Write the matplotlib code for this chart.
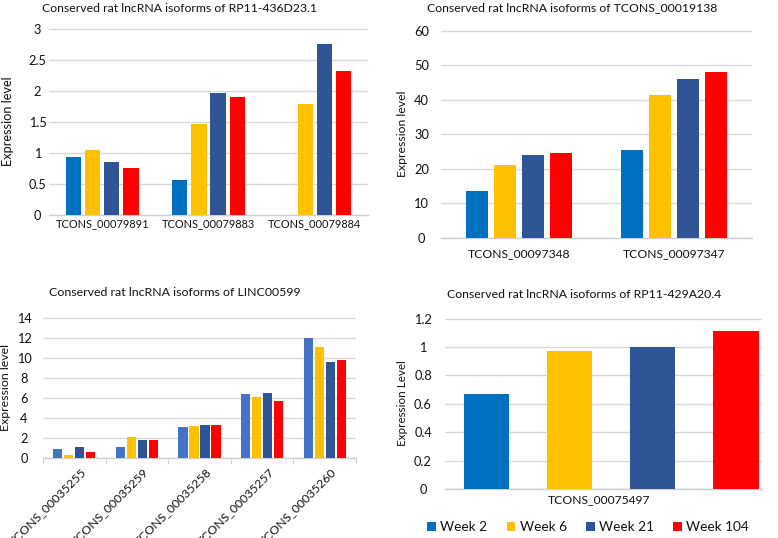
import matplotlib
matplotlib.use("Agg")
import matplotlib.pyplot as plt
import numpy as np
from matplotlib.ticker import FuncFormatter
from matplotlib.transforms import ScaledTranslation

plt.rcParams['font.family'] = ['Lato', 'DejaVu Sans']

series = ["Week 2", "Week 6", "Week 21", "Week 104"]
colors = ["#0070C0", "#FFC000", "#2F5597", "#FF0000"]
colors_p3 = ["#4472C4", "#FFC000", "#2F5597", "#FF0000"]

p1_title = "Conserved rat lncRNA isoforms of RP11-436D23.1"
p1_cats = ["TCONS_00079891", "TCONS_00079883", "TCONS_00079884"]
p1_w2 = [0.93, 0.56, 0.0]
p1_w6 = [1.04, 1.47, 1.79]
p1_w21 = [0.86, 1.97, 2.76]
p1_w104 = [0.75, 1.90, 2.32]
p1_ticks = [0, 0.5, 1, 1.5, 2, 2.5, 3]

p2_title = "Conserved rat lncRNA isoforms of TCONS_00019138"
p2_cats = ["TCONS_00097348", "TCONS_00097347"]
p2_w2 = [13.7, 25.4]
p2_w6 = [21.0, 41.3]
p2_w21 = [24.1, 46.0]
p2_w104 = [24.7, 48.0]
p2_ticks = [0, 10, 20, 30, 40, 50, 60]

p3_title = "Conserved rat lncRNA isoforms of LINC00599"
p3_cats = ["TCONS_00035255", "TCONS_00035259", "TCONS_00035258",
           "TCONS_00035257", "TCONS_00035260"]
p3_w2 = [0.85, 1.05, 3.05, 6.4, 12.0]
p3_w6 = [0.3, 2.1, 3.15, 6.05, 11.05]
p3_w21 = [1.05, 1.75, 3.25, 6.5, 9.55]
p3_w104 = [0.6, 1.75, 3.25, 5.7, 9.8]
p3_ticks = [0, 2, 4, 6, 8, 10, 12, 14]

p4_title = "Conserved rat lncRNA isoforms of RP11-429A20.4"
p4_cats = ["TCONS_00075497"]
p4_w2 = [0.67]
p4_w6 = [0.97]
p4_w21 = [1.0]
p4_w104 = [1.11]
p4_ticks = [0, 0.2, 0.4, 0.6, 0.8, 1, 1.2]

W, H = 778, 538
fig = plt.figure(figsize=(W / 100, H / 100), dpi=100)
renderer = fig.canvas.get_renderer()
PX2PT = 72 / 100


def size_for(s, target_px):
    t = fig.text(0, 0, s, fontsize=10)
    w = t.get_window_extent(renderer).width
    t.remove()
    return 10 * target_px / w


def rect(x0, x1, yt, yb):
    return [x0 / W, 1 - yb / H, (x1 - x0) / W, (yb - yt) / H]


fmt = FuncFormatter(lambda v, p: ("%g" % v))
TXT = '#111111'


def panel(box, cats, vals, ticks, cols, step, width, ylabel, ylab_px,
          ylab_x, tick_sample, tick_px, tick_cx, cat_px, cat_pad,
          title, title_px, title_cx, title_y, rotate=False,
          xshift=0.0, label_dx=0.0):
    x0, x1, yt, yb = box
    ax = fig.add_axes(rect(*box))
    x = np.arange(len(cats))
    n = len(vals)
    for i, v in enumerate(vals):
        off = (i - (n - 1) / 2) * step
        ax.bar(x + off, v, width, color=cols[i], zorder=3, label=series[i])
    ax.set_xlim(-0.5 - xshift, len(cats) - 0.5 - xshift)
    ax.set_ylim(0, ticks[-1] * 1.004)
    ax.set_yticks(ticks)
    ax.yaxis.set_major_formatter(fmt)
    ax.grid(axis='y', color='#D9D9D9', linewidth=1.0, zorder=0)
    for s in ['top', 'right', 'left']:
        ax.spines[s].set_visible(False)
    ax.spines['bottom'].set_color('#D0D0D0')
    ax.spines['bottom'].set_linewidth(1.0)
    tfs = size_for(tick_sample, tick_px)
    ax.tick_params(axis='y', length=0, pad=(x0 - tick_cx) * PX2PT,
                   labelsize=tfs, labelcolor=TXT)
    for lb in ax.get_yticklabels():
        lb.set_ha('center')
    yfs = size_for(ylabel, ylab_px)
    ax.set_ylabel(ylabel, fontsize=yfs, color=TXT, va='center')
    ax.yaxis.set_label_coords((ylab_x - x0) / (x1 - x0), 0.5)
    cfs = size_for(cats[0], cat_px)
    shift = ScaledTranslation(label_dx / 100, 0, fig.dpi_scale_trans)
    if rotate:
        ax.set_xticks(np.arange(len(cats) + 1) - 0.5)
        ax.set_xticklabels([''] * (len(cats) + 1))
        ax.tick_params(axis='x', length=4, color='#D0D0D0', direction='out')
        ax.set_xticks(x, minor=True)
        ax.set_xticklabels(cats, minor=True, rotation=45, ha='right',
                           va='top', rotation_mode='anchor', fontsize=cfs,
                           color=TXT)
        ax.tick_params(axis='x', which='minor', length=0, pad=cat_pad)
        for lb in ax.get_xticklabels(minor=True):
            lb.set_transform(lb.get_transform() + shift)
    else:
        ax.set_xticks(x)
        ax.set_xticklabels(cats, fontsize=cfs, color=TXT)
        ax.tick_params(axis='x', length=0, pad=cat_pad)
        for lb in ax.get_xticklabels():
            lb.set_transform(lb.get_transform() + shift)
    fig.text(title_cx / W, 1 - title_y / H, title, ha='center', va='center',
             fontsize=size_for(title, title_px), color=TXT)
    return ax


ax1 = panel((49, 368, 28, 215), p1_cats, [p1_w2, p1_w6, p1_w21, p1_w104],
            p1_ticks, colors, 0.18, 0.145,
            "Expression level", 90, 8, "2.5", 18, 37.5, 93, 2.5,
            p1_title, 276, 180, 8)

ax2 = panel((441, 752, 30, 238), p2_cats, [p2_w2, p2_w6, p2_w21, p2_w104],
            p2_ticks, colors, 0.18, 0.14,
            "Expression level", 87, 402, "60", 15, 421.5, 102, 7.5,
            p2_title, 290, 572, 8)

ax3 = panel((43, 356, 317, 458), p3_cats, [p3_w2, p3_w6, p3_w21, p3_w104],
            p3_ticks, colors_p3, 0.176, 0.145,
            "Expression level", 88, 6, "14", 15, 24, 104, 6,
            p3_title, 252, 175, 292, rotate=True, label_dx=6)

ax4 = panel((445, 762, 318, 489), p4_cats, [p4_w2, p4_w6, p4_w21, p4_w104],
            p4_ticks, colors, 0.262, 0.142,
            "Expression Level", 85, 402, "1.2", 18, 423, 102, 4,
            p4_title, 276, 584, 294, xshift=0.025, label_dx=-12)

lfs = size_for("Week 104", 63)
leg = fig.legend(*ax4.get_legend_handles_labels(), loc='center',
                 bbox_to_anchor=(588 / W, 1 - 527 / H), ncol=4, frameon=False,
                 fontsize=lfs, handlelength=0.65, handleheight=0.65,
                 handletextpad=0.3, columnspacing=1.4, borderpad=0)
for t in leg.get_texts():
    t.set_color(TXT)

fig.savefig("out.png", dpi=100)
